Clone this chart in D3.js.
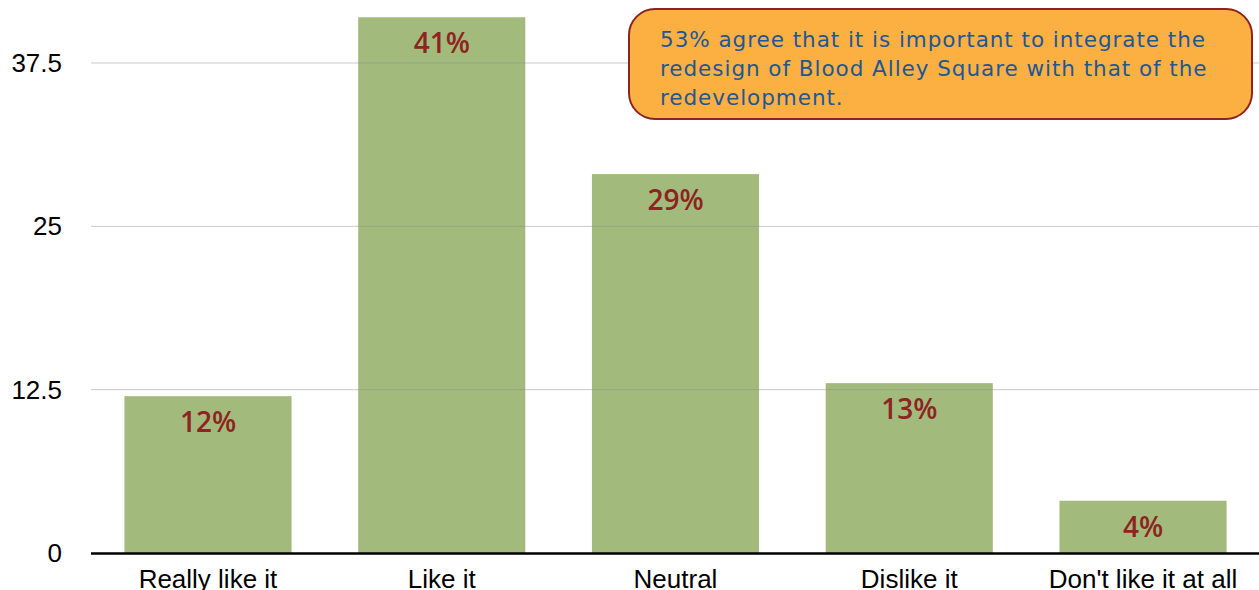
<!DOCTYPE html>
<html><head><meta charset="utf-8">
<script src="https://cdn.jsdelivr.net/npm/d3@7"></script>
<style>body{margin:0;background:#fff;} svg{display:block;}</style>
</head><body>
<svg id="c" width="1259" height="590"></svg>
<script>
const categories = ["Really like it","Like it","Neutral","Dislike it","Don't like it at all"];
const values = [12, 41, 29, 13, 4];
const valueLabels = ["12%","41%","29%","13%","4%"];
const yTicks = [0, 12.5, 25, 37.5];
const yTickLabels = ["0","12.5","25","37.5"];
const noteLines = ["53% agree that it is important to integrate the","redesign of Blood Alley Square with that of the","redevelopment."];

const svg = d3.select("#c");
const x = d3.scaleBand().domain(categories).range([91, 1260]).paddingInner(0.285).paddingOuter(0.143);
const y = d3.scaleLinear().domain([0, 37.5]).range([553, 63]);

// bars
svg.selectAll("rect.bar").data(values).join("rect").attr("class","bar")
  .attr("x",(d,i)=>x(categories[i])).attr("width",x.bandwidth())
  .attr("y",d=>y(d)).attr("height",d=>y(0)-y(d)).attr("fill","#a2bb7c");

// gridlines
svg.selectAll("line.grid").data(yTicks.filter(t=>t>0)).join("line").attr("class","grid")
  .attr("x1",91).attr("x2",1259).attr("y1",d=>y(d)).attr("y2",d=>y(d))
  .attr("stroke","#8a8a8a").attr("stroke-opacity",0.45).attr("stroke-width",1);

// baseline
svg.append("line").attr("x1",91).attr("x2",1259).attr("y1",y(0)+0.5).attr("y2",y(0)+0.5)
  .attr("stroke","#000").attr("stroke-width",2.5);

// y tick labels
svg.selectAll("text.yt").data(yTicks).join("text").attr("class","yt")
  .attr("x",62).attr("y",d=>y(d)+9).attr("text-anchor","end")
  .attr("font-family","Liberation Sans, Arial, sans-serif").attr("font-size",26).attr("fill","#000")
  .text((d,i)=>yTickLabels[i]);

// x labels
svg.selectAll("text.xt").data(categories).join("text").attr("class","xt")
  .attr("x",d=>x(d)+x.bandwidth()/2).attr("y",588).attr("text-anchor","middle")
  .attr("font-family","Liberation Sans, Arial, sans-serif").attr("font-size",26).attr("fill","#000")
  .text(d=>d);

// value labels
svg.selectAll("text.vl").data(values).join("text").attr("class","vl")
  .attr("x",(d,i)=>x(categories[i])+x.bandwidth()/2).attr("y",d=>y(d)+36).attr("text-anchor","middle")
  .attr("font-family","Open Sans, Lato, sans-serif").attr("font-weight",600).attr("font-size",28).attr("fill","#8e2421")
  .text((d,i)=>valueLabels[i]);

// note box
svg.append("rect").attr("x",629).attr("y",9).attr("width",623).attr("height",110).attr("rx",26).attr("ry",26)
  .attr("fill","#fbb041").attr("stroke","#8e2421").attr("stroke-width",2);
const notes = svg.selectAll("text.note").data(noteLines).join("text").attr("class","note")
  .attr("x",660).attr("y",(d,i)=>47+i*29)
  .attr("font-family","DejaVu Sans, sans-serif").attr("font-size",21.5).attr("fill","#1d5797")
  .text(d=>d);
// fit letter spacing so first line spans like the reference
const n0 = notes.nodes()[0];
const w0 = n0.getComputedTextLength();
const ls = (545 - w0) / (noteLines[0].length - 1);
notes.attr("letter-spacing", ls);
</script>
</body></html>
